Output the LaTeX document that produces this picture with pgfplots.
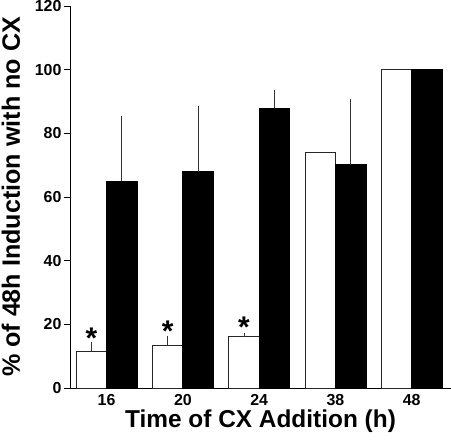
\documentclass[border=0pt]{standalone}
\usepackage{fontspec}
\setmainfont{Liberation Sans}
\usepackage{pgfplots}
\usepackage{pgfplotstable}
\pgfplotsset{compat=1.18}
\pgfplotstableread{
x y e
0 11.4 2.3
1 13.5 2.3
2 16.1 0.6
}\whiteerr
\pgfplotstableread{
x y
3 73.9
4 100
}\whitenoerr
\pgfplotstableread{
x y e
0 65.0 19.9
1 68.0 19.9
2 87.9 5.0
3 70.1 19.9
}\blackerr
\pgfplotstableread{
x y
4 100
}\blacknoerr
\begin{document}
\begin{tikzpicture}
\begin{axis}[
  name=ax,
  scale only axis, width=381bp, height=382bp,
  xmin=-0.48, xmax=4.515, ymin=0, ymax=120,
  axis lines*=left,
  axis line style={line width=0.9bp, black},
  xtick={0,1,2,3,4}, xticklabels={16,20,24,38,48},
  ytick={0,20,...,120},
  major x tick style={draw=none},
  major y tick style={line width=0.9bp, black},
  tick align=outside, major tick length=6bp,
  tick label style={font=\fontsize{16}{19}\selectfont\bfseries},
  yticklabel style={xshift=1bp},
  xticklabel style={inner sep=1bp, yshift=1bp},
  /pgf/number format/assume math mode=true,
  xlabel={Time of CX Addition (h)},
  ylabel={\% of 48h Induction with no CX},
  xlabel style={font=\fontsize{24.5}{28}\selectfont\bfseries, at={(axis description cs:0.5,-0.1047)}, anchor=base, inner sep=0pt, text height=0.72em, text depth=0.2em},
  ylabel style={font=\fontsize{25.2}{29}\selectfont\bfseries, at={(axis description cs:-0.155,0.5)}, anchor=center},
  clip=false,
]
\addplot[ybar, bar shift=0, bar width=0.4, fill=white, draw=black!85, line width=0.8bp,
  error bars/.cd, y dir=plus, y explicit,
  error bar style={line width=0.8bp, draw=black!80},
  error mark options={mark size=2.2bp, line width=0.8bp, draw=black!80}]
  table[x expr=\thisrow{x}-0.2, y=y, y error=e] {\whiteerr};
\addplot[ybar, bar shift=0, bar width=0.4, fill=white, draw=black!85, line width=0.8bp]
  table[x expr=\thisrow{x}-0.2, y=y] {\whitenoerr};
\addplot[ybar, bar shift=0, bar width=0.4, fill=black, draw=black, line width=0.8bp,
  error bars/.cd, y dir=plus, y explicit,
  error bar style={line width=0.8bp, draw=black!80},
  error mark options={mark size=2.2bp, line width=0.8bp, draw=black!80}]
  table[x expr=\thisrow{x}+0.2, y=y, y error=e] {\blackerr};
\addplot[ybar, bar shift=0, bar width=0.4, fill=black, draw=black, line width=0.8bp]
  table[x expr=\thisrow{x}+0.2, y=y] {\blacknoerr};
\node[font=\fontsize{30}{34}\selectfont\bfseries, anchor=base] at (axis cs:-0.2,12.4) {*};
\node[font=\fontsize{30}{34}\selectfont\bfseries, anchor=base] at (axis cs:0.8,14.6) {*};
\node[font=\fontsize{30}{34}\selectfont\bfseries, anchor=base] at (axis cs:1.8,15.9) {*};
\end{axis}
\pgfresetboundingbox
\path ([xshift=-70bp,yshift=-57bp]ax.south west) rectangle ([yshift=6bp]ax.north east);
\end{tikzpicture}
\end{document}
